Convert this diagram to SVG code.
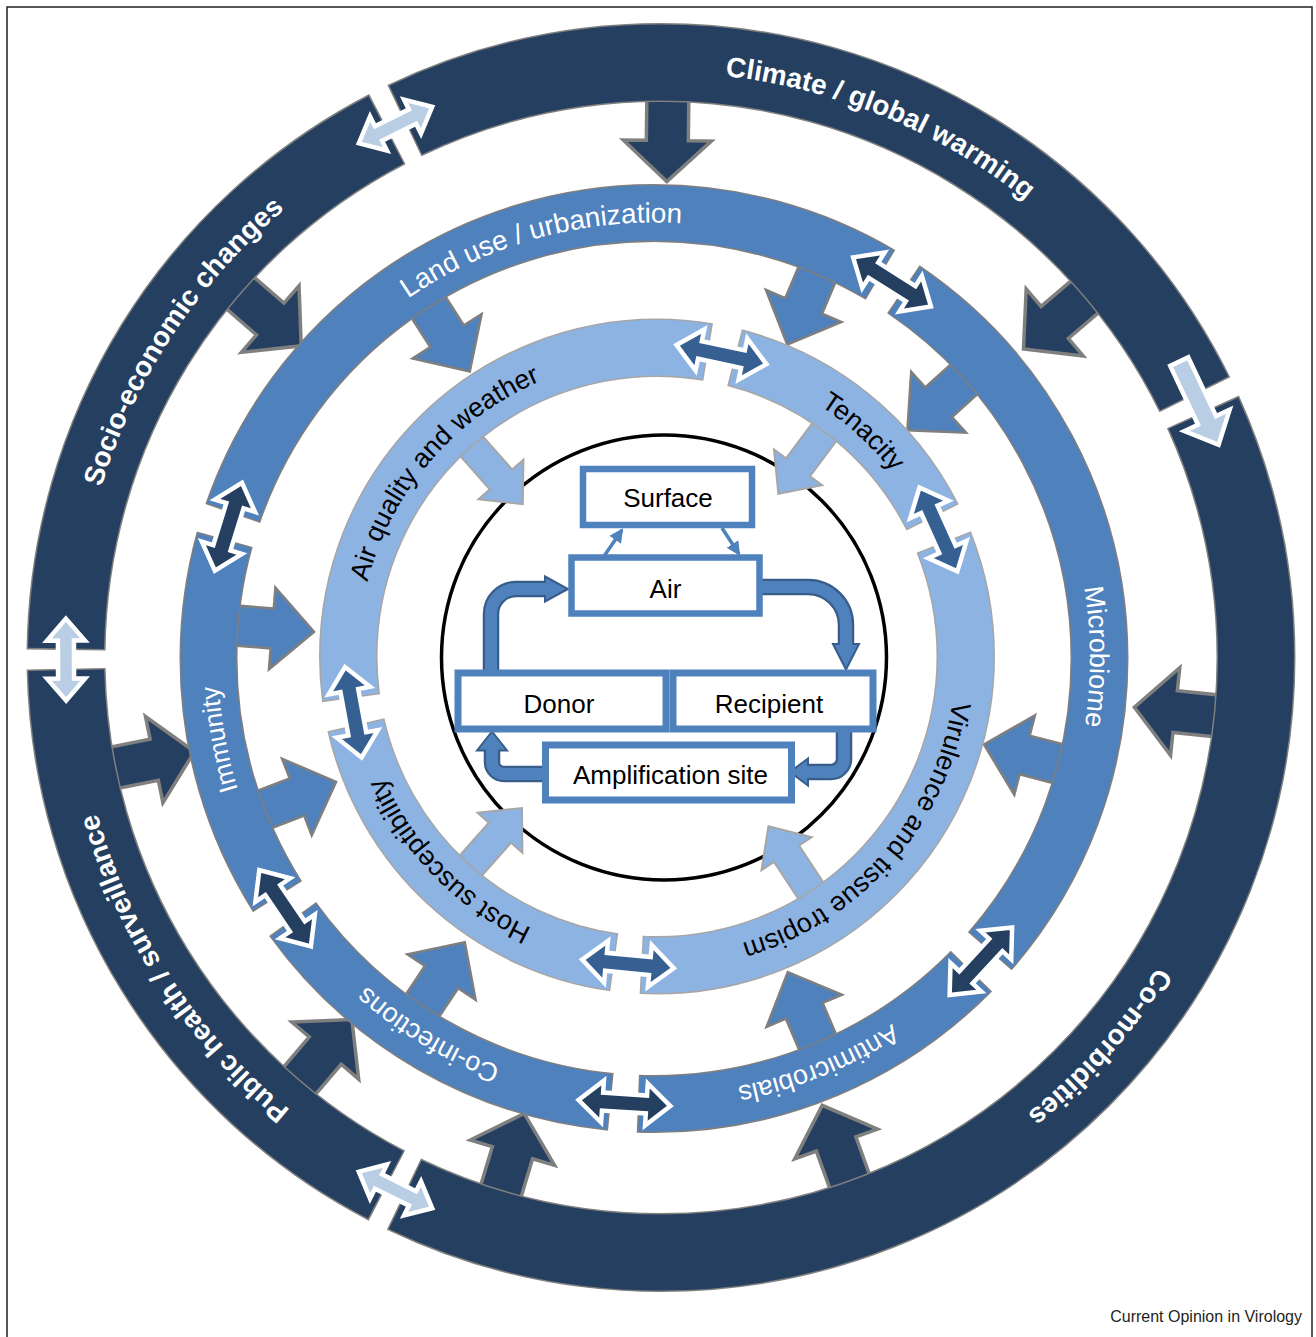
<svg xmlns="http://www.w3.org/2000/svg" width="1316" height="1337" viewBox="0 0 1316 1337">
<style>
.tD{font-family:"Liberation Sans",Arial,sans-serif;font-weight:bold;font-size:28px;fill:#fff}
.tM{font-family:"Liberation Sans",Arial,sans-serif;font-size:27px;fill:#fff}
.tL{font-family:"Liberation Sans",Arial,sans-serif;font-size:27px;fill:#000}
.tB{font-family:"Liberation Sans",Arial,sans-serif;font-size:26px;fill:#000;text-anchor:middle}
.box{fill:#fff;stroke:#4F81BD;stroke-width:6.5}
.shO{fill:none;stroke:#385D8A;stroke-width:16.5}
.shI{fill:none;stroke:#4F81BD;stroke-width:12}
.hd{fill:#4F81BD;stroke:#385D8A;stroke-width:2;stroke-linejoin:miter}
</style>
<defs>
<path id="arcD" d="M84.89,555.92 A585,585 0 0 1 1237.11,555.92"/>
<path id="arcM" d="M224.62,582.79 A436,436 0 0 1 1083.38,582.79"/>
<path id="arcL" d="M362.54,604.58 A299,299 0 0 1 951.46,604.58"/>
<path id="darr" d="M640,92.5 H682 V140.5 H705 L661,181.5 L617,140.5 H640 Z" fill="#243F60" stroke="#7F7F7F" stroke-width="3.5"/>
<path id="marr" d="M634,236.5 H674 V275.5 H695 L654,317.5 L613,275.5 H634 Z" fill="#4F81BD" stroke="#7F7F7F" stroke-width="2.5"/>
<path id="larr" d="M642,371.5 H672 V420.5 H687 L657,453.5 L627,420.5 H642 Z" fill="#8DB3E2" stroke="#A6A6A6" stroke-width="2"/>
<path id="ddbl" d="M620,62.5 L642,43.5 V54.5 H680 V43.5 L702,62.5 L680,81.5 V70.5 H642 V81.5 Z" fill="#B9CDE5" stroke="#fff" stroke-width="4.5"/>
<path id="dsgl" d="M615,52.5 H680 V37.5 L707,62.5 L680,87.5 V72.5 H615 Z" fill="#B9CDE5" stroke="#fff" stroke-width="4.5"/>
<path id="mdbl" d="M608,213 L632,192 V204 H676 V192 L700,213 L676,234 V222 H632 V234 Z" fill="#243F60" stroke="#fff" stroke-width="4.5"/>
<path id="ldbl" d="M611,347.75 L635,326.75 V338.75 H679 V326.75 L703,347.75 L679,368.75 V356.75 H635 V368.75 Z" fill="#366092" stroke="#fff" stroke-width="4.5"/>
<marker id="ah" markerUnits="userSpaceOnUse" markerWidth="14" markerHeight="14" refX="12" refY="7" orient="auto"><path d="M0,0 L14,7 L0,14 Z" fill="#4F81BD"/></marker>
</defs>

<path id="frame" d="M7,1340 V7 H1312 V1340" fill="none" stroke="#222" stroke-width="1.5"/>

<g id="host-circle"><circle cx="664" cy="657.5" r="222.5" fill="none" stroke="#000" stroke-width="3.5"/></g>

<g id="connectors">
 <g id="outer-to-middle">
  <use href="#darr" transform="rotate(0.7 661 657.5)"/>
  <use href="#darr" transform="rotate(49.6 661 657.5)"/>
  <use href="#darr" transform="rotate(96 661 657.5)"/>
  <use href="#darr" transform="rotate(160.2 661 657.5)"/>
  <use href="#darr" transform="rotate(196.7 661 657.5)"/>
  <use href="#darr" transform="rotate(220.5 661 657.5)"/>
  <use href="#darr" transform="rotate(258.6 661 657.5)"/>
  <use href="#darr" transform="rotate(310.9 661 657.5)"/>
 </g>
 <g id="middle-to-inner">
  <use href="#marr" transform="rotate(327.3 654 658.5)"/>
  <use href="#marr" transform="rotate(23 654 658.5)"/>
  <use href="#marr" transform="rotate(48 654 658.5)"/>
  <use href="#marr" transform="rotate(104.6 654 658.5)"/>
  <use href="#marr" transform="rotate(156.9 654 658.5)"/>
  <use href="#marr" transform="rotate(213.7 654 658.5)"/>
  <use href="#marr" transform="rotate(248.8 654 658.5)"/>
  <use href="#marr" transform="rotate(274.5 654 658.5)"/>
 </g>
 <g id="inner-to-core">
  <use href="#larr" transform="rotate(318.6 657 656.5)"/>
  <use href="#larr" transform="rotate(36.7 657 656.5)"/>
  <use href="#larr" transform="rotate(146.7 657 656.5)"/>
  <use href="#larr" transform="rotate(221.7 657 656.5)"/>
 </g>
 <g id="core-flow">
  <line x1="600" y1="562" x2="622" y2="530" stroke="#4F81BD" stroke-width="3.5" marker-end="url(#ah)"/>
  <line x1="722" y1="528" x2="739" y2="554" stroke="#4F81BD" stroke-width="3.5" marker-end="url(#ah)"/>
  <path class="shO" d="M491,672 V614 A25,25 0 0 1 516,589 H548"/>
  <path class="shO" d="M762,587 H808 A38,38 0 0 1 846,625 V646"/>
  <path class="shO" d="M844,730 V759 A13,13 0 0 1 831,772 H806"/>
  <path class="shO" d="M546,774 H504 A12,12 0 0 1 492,762 V749"/>
  <polygon class="hd" points="545,576.5 568,589 545,601.5"/>
  <polygon class="hd" points="833,644 846,669.5 859,644"/>
  <polygon class="hd" points="808,758.5 790,772 808,785.5"/>
  <polygon class="hd" points="477,750.5 492,731.5 507,750.5"/>
  <path class="shI" d="M491,672 V614 A25,25 0 0 1 516,589 H550"/>
  <path class="shI" d="M762,587 H808 A38,38 0 0 1 846,625 V648"/>
  <path class="shI" d="M844,730 V759 A13,13 0 0 1 831,772 H804"/>
  <path class="shI" d="M546,774 H504 A12,12 0 0 1 492,762 V747"/>
 </g>
</g>

<g id="ring-outer">
 <path d="M661,62.5 A595,595 0 0 1 661,1252.5 A595,595 0 0 1 661,62.5" fill="none" stroke="#7F7F7F" stroke-width="79" stroke-dasharray="928.07 19 1453.53 19 638.34 19 642.56 19" stroke-dashoffset="265.69"/>
 <path d="M661,62.5 A595,595 0 0 1 661,1252.5 A595,595 0 0 1 661,62.5" fill="none" stroke="#243F60" stroke-width="76" stroke-dasharray="925.07 22 1450.53 22 635.34 22 639.56 22" stroke-dashoffset="264.19"/>
 <g transform="rotate(22.45 661 657.5)"><text class="tD" text-anchor="middle"><textPath href="#arcD" startOffset="50%">Climate / global warming</textPath></text></g>
 <g transform="rotate(303.45 661 657.5)"><text class="tD" text-anchor="middle"><textPath href="#arcD" startOffset="50%">Socio-economic changes</textPath></text></g>
 <g transform="rotate(236.95 661 657.5)"><text class="tD" text-anchor="middle"><textPath href="#arcD" startOffset="50%">Public health / surveillance</textPath></text></g>
 <g transform="rotate(131.6 661 657.5)"><text class="tD" text-anchor="middle"><textPath href="#arcD" startOffset="50%">Co-morbidities</textPath></text></g>
</g>

<g id="ring-middle">
 <path d="M654,213 A445.5,445.5 0 0 1 654,1104 A445.5,445.5 0 0 1 654,213" fill="none" stroke="#7F7F7F" stroke-width="58" stroke-dasharray="790.18 27 754.43 27 369.55 27 378.10 27 371.90 27" stroke-dashoffset="552.57"/>
 <path d="M654,213 A445.5,445.5 0 0 1 654,1104 A445.5,445.5 0 0 1 654,213" fill="none" stroke="#4F81BD" stroke-width="55" stroke-dasharray="787.18 30 751.43 30 366.55 30 375.10 30 368.90 30" stroke-dashoffset="551.07"/>
 <g transform="rotate(344.65 654 658.5)"><text class="tM" text-anchor="middle" style="font-size:27.8px"><textPath href="#arcM" startOffset="50%">Land use / urbanization</textPath></text></g>
 <g transform="rotate(89.75 654 658.5)"><text class="tM" text-anchor="middle"><textPath href="#arcM" startOffset="50%">Microbiome</textPath></text></g>
 <g transform="rotate(157.95 654 658.5)"><text class="tM" text-anchor="middle"><textPath href="#arcM" startOffset="50%">Antimicrobials</textPath></text></g>
 <g transform="rotate(210.95 654 658.5)"><text class="tM" text-anchor="middle"><textPath href="#arcM" startOffset="50%">Co-infections</textPath></text></g>
 <g transform="rotate(259.45 654 658.5)"><text class="tM" text-anchor="middle" style="font-size:26px"><textPath href="#arcM" startOffset="50%">Immunity</textPath></text></g>
</g>

<g id="ring-inner">
 <path d="M657,347.75 A308.75,308.75 0 0 1 657,965.25 A308.75,308.75 0 0 1 657,347.75" fill="none" stroke="#A6A6A6" stroke-width="58.5" stroke-dasharray="578.95 27 262.10 27 618.02 27 372.86 27" stroke-dashoffset="527.52"/>
 <path d="M657,347.75 A308.75,308.75 0 0 1 657,965.25 A308.75,308.75 0 0 1 657,347.75" fill="none" stroke="#8DB3E2" stroke-width="55.5" stroke-dasharray="575.95 30 259.10 30 615.02 30 369.86 30" stroke-dashoffset="526.02"/>
 <g transform="rotate(310.75 657 656.5)"><text class="tL" text-anchor="middle"><textPath href="#arcL" startOffset="50%">Air quality and weather</textPath></text></g>
 <g transform="rotate(42.5 657 656.5)"><text class="tL" text-anchor="middle"><textPath href="#arcL" startOffset="50%">Tenacity</textPath></text></g>
 <g transform="rotate(131.1 657 656.5)"><text class="tL" text-anchor="middle"><textPath href="#arcL" startOffset="50%">Virulence and tissue tropism</textPath></text></g>
 <g transform="rotate(225.45 657 656.5)"><text class="tL" text-anchor="middle"><textPath href="#arcL" startOffset="50%">Host susceptibility</textPath></text></g>
</g>

<g id="ring-links">
 <use href="#ddbl" transform="rotate(333.5 661 657.5)"/>
 <use href="#dsgl" transform="rotate(64.7 661 657.5)"/>
 <use href="#ddbl" transform="rotate(206.5 661 657.5)"/>
 <use href="#ddbl" transform="rotate(269.8 661 657.5)"/>
 <use href="#mdbl" transform="rotate(32.3 654 658.5)"/>
 <use href="#mdbl" transform="rotate(132.8 654 658.5)"/>
 <use href="#mdbl" transform="rotate(183.8 654 658.5)"/>
 <use href="#mdbl" transform="rotate(235.9 654 658.5)"/>
 <use href="#mdbl" transform="rotate(287.2 654 658.5)"/>
 <use href="#ldbl" transform="rotate(12.05 657 656.5)"/>
 <use href="#ldbl" transform="rotate(65.7 657 656.5)"/>
 <use href="#ldbl" transform="rotate(185.4 657 656.5)"/>
 <use href="#ldbl" transform="rotate(259.6 657 656.5)"/>
</g>

<g id="node-surface"><rect class="box" x="583" y="469" width="169" height="56"/><text class="tB" x="668" y="507">Surface</text></g>
<g id="node-air"><rect class="box" x="571.5" y="557.5" width="188" height="56"/><text class="tB" x="665.5" y="597.5">Air</text></g>
<g id="node-donor"><rect class="box" x="458" y="673" width="208" height="56" style="stroke-width:7"/><text class="tB" x="559" y="713">Donor</text></g>
<g id="node-recipient"><rect class="box" x="673" y="673" width="200" height="56" style="stroke-width:7"/><text class="tB" x="769" y="713">Recipient</text></g>
<g id="node-amplification"><rect class="box" x="545.5" y="745" width="246" height="55" style="stroke-width:7"/><text class="tB" x="670.5" y="784">Amplification site</text></g>

<text x="1302" y="1322" text-anchor="end" font-family="Liberation Sans, Arial, sans-serif" font-size="16" fill="#231F20">Current Opinion in Virology</text>
</svg>
